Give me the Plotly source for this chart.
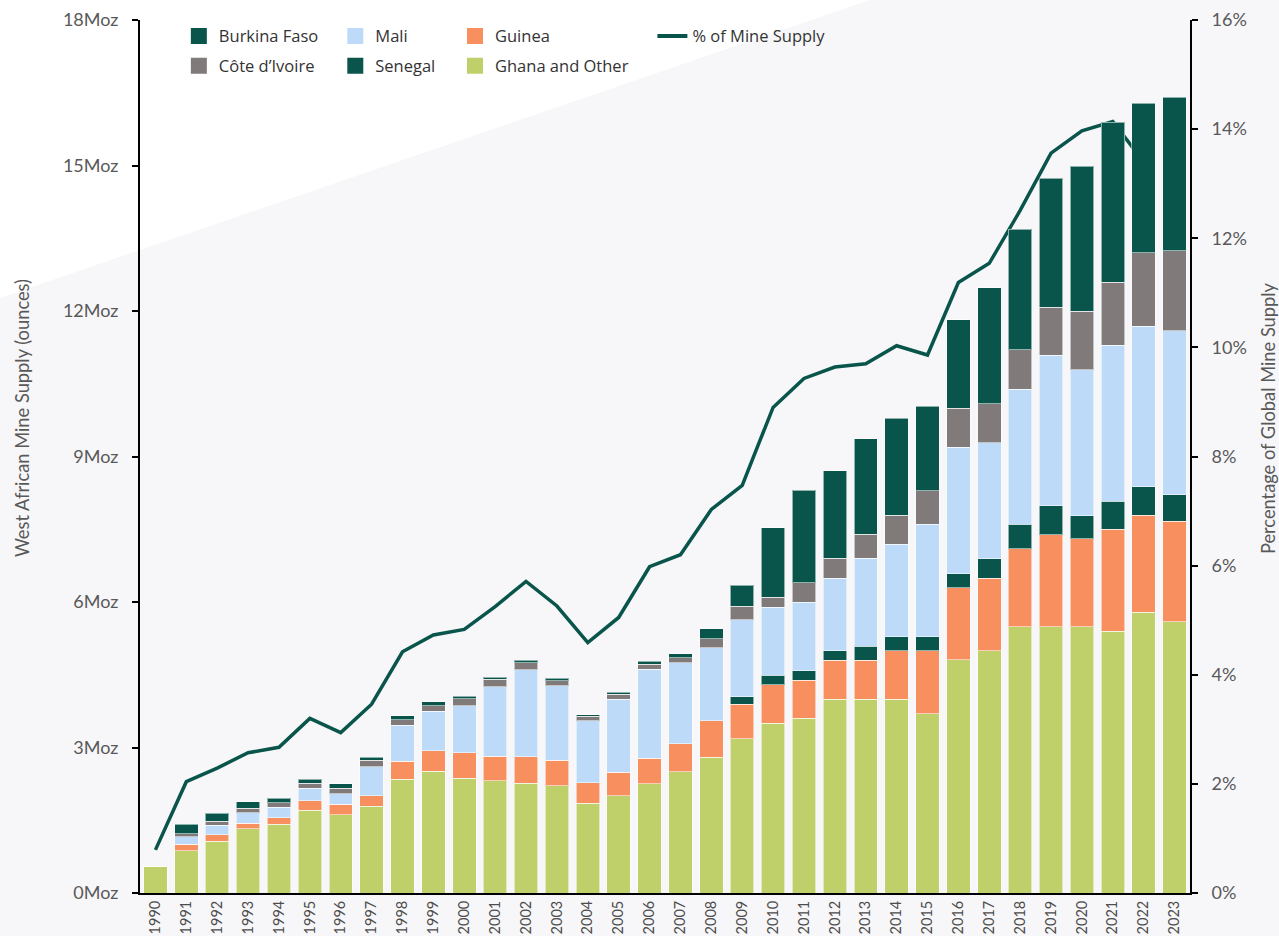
import plotly.graph_objects as go

# West African gold mine supply by country (Moz) and share of global mine supply (%)
years = [str(y) for y in range(1990, 2024)]

ghana_other = [0.55, 0.87, 1.07, 1.32, 1.42, 1.71, 1.61, 1.79, 2.35, 2.51, 2.37, 2.31, 2.26, 2.21, 1.85, 2.01, 2.25,
               2.50, 2.80, 3.18, 3.50, 3.60, 3.99, 3.99, 3.99, 3.70, 4.81, 4.99, 5.49, 5.49, 5.49, 5.40, 5.79, 5.59]
guinea = [0.0, 0.14, 0.13, 0.12, 0.13, 0.19, 0.22, 0.22, 0.37, 0.42, 0.52, 0.51, 0.55, 0.53, 0.42, 0.48, 0.53,
          0.58, 0.75, 0.71, 0.79, 0.79, 0.81, 0.81, 1.00, 1.29, 1.48, 1.50, 1.61, 1.90, 1.81, 2.10, 2.00, 2.08]
senegal = [0.0, 0.0, 0.0, 0.0, 0.0, 0.0, 0.0, 0.0, 0.0, 0.0, 0.0, 0.0, 0.0, 0.0, 0.0, 0.0, 0.0,
           0.0, 0.0, 0.16, 0.20, 0.19, 0.19, 0.29, 0.29, 0.29, 0.29, 0.40, 0.50, 0.59, 0.48, 0.58, 0.59, 0.54]
mali = [0.0, 0.15, 0.20, 0.21, 0.22, 0.26, 0.22, 0.59, 0.74, 0.82, 0.97, 1.43, 1.79, 1.53, 1.28, 1.50, 1.83,
        1.67, 1.51, 1.58, 1.40, 1.41, 1.50, 1.81, 1.91, 2.32, 2.61, 2.39, 2.79, 3.11, 3.01, 3.21, 3.31, 3.38]
cote_divoire = [0.0, 0.06, 0.08, 0.10, 0.09, 0.10, 0.11, 0.14, 0.11, 0.11, 0.15, 0.16, 0.15, 0.11, 0.09, 0.11, 0.11,
                0.10, 0.18, 0.28, 0.21, 0.41, 0.41, 0.50, 0.60, 0.69, 0.80, 0.81, 0.81, 0.99, 1.20, 1.30, 1.51, 1.65]
burkina_faso = [0.0, 0.20, 0.16, 0.13, 0.09, 0.09, 0.09, 0.06, 0.08, 0.08, 0.05, 0.04, 0.05, 0.05, 0.04, 0.04, 0.06,
                0.08, 0.21, 0.44, 1.43, 1.90, 1.81, 1.97, 2.00, 1.75, 1.83, 2.39, 2.49, 2.66, 2.99, 3.30, 3.08, 3.17]
share_pct = [0.79, 2.04, 2.29, 2.57, 2.67, 3.20, 2.94, 3.46, 4.42, 4.73, 4.83, 5.25, 5.71, 5.26, 4.59, 5.05, 5.98,
             6.20, 7.03, 7.47, 8.90, 9.43, 9.64, 9.70, 10.03, 9.86, 11.19, 11.54, 12.51, 13.56, 13.97, 14.14, 13.40, None]

moz_ticks = [0, 3, 6, 9, 12, 15, 18]
pct_ticks = [0, 2, 4, 6, 8, 10, 12, 14, 16]

DARK = "#0a554b"
COLORS = {
    "Ghana and Other": "#bfd06a",
    "Guinea": "#f78f5e",
    "Senegal": DARK,
    "Mali": "#bddaf8",
    "Côte d’Ivoire": "#817a7a",
    "Burkina Faso": DARK,
}
stack = [
    ("Ghana and Other", ghana_other),
    ("Guinea", guinea),
    ("Senegal", senegal),
    ("Mali", mali),
    ("Côte d’Ivoire", cote_divoire),
    ("Burkina Faso", burkina_faso),
]

fig = go.Figure()

# Share line sits on the primary axis so the stacked bars (overlaying axis) draw above it
fig.add_trace(go.Scatter(
    x=years, y=share_pct, mode="lines", yaxis="y", showlegend=False,
    line=dict(color=DARK, width=3.5), connectgaps=False, hoverinfo="skip",
))

for name, vals in stack:
    fig.add_trace(go.Bar(
        x=years, y=vals, name=name, yaxis="y2", showlegend=False,
        marker=dict(color=COLORS[name], line=dict(color="rgba(255,255,255,0.55)", width=1)),
    ))

# Legend entries laid out in four columns
legend_cols = [
    ("legend", [("Burkina Faso", "sq"), ("Côte d’Ivoire", "sq")]),
    ("legend2", [("Mali", "sq"), ("Senegal", "sq")]),
    ("legend3", [("Guinea", "sq"), ("Ghana and Other", "sq")]),
    ("legend4", [("% of Mine Supply", "line")]),
]
for leg, items in legend_cols:
    for name, kind in items:
        if kind == "sq":
            fig.add_trace(go.Scatter(
                x=[None], y=[None], mode="markers", name=name, legend=leg, legendgroup=name,
                marker=dict(symbol="square", size=16, color=COLORS[name]),
            ))
        else:
            fig.add_trace(go.Scatter(
                x=[None], y=[None], mode="lines", name=name, legend=leg, legendgroup=name,
                line=dict(color=DARK, width=4),
            ))

legend_font = dict(family="Open Sans", size=16.5, color="#333333")
def legend_at(x):
    return dict(x=x, y=1.0015, xanchor="left", yanchor="top", orientation="v",
                bgcolor="rgba(0,0,0,0)", font=legend_font, tracegroupgap=5.5,
                itemclick=False, itemdoubleclick=False)

tick_font = dict(family="Lato", size=18, color="#595959")
title_font = dict(family="Lato", size=18.3, color="#595959")

fig.update_layout(
    width=1279, height=936,
    margin=dict(l=140, r=89, t=20, b=43),
    paper_bgcolor="#f7f7f9",
    plot_bgcolor="rgba(0,0,0,0)",
    barmode="stack",
    bargap=0.24,
    font=dict(family="Lato", color="#595959"),
    legend=legend_at(0.037),
    legend2=legend_at(0.186),
    legend3=legend_at(0.300),
    legend4=legend_at(0.488),
    xaxis=dict(
        type="category", categoryorder="array", categoryarray=years,
        tickangle=-90, tickfont=dict(family="Lato", size=14.5, color="#4d4d4d"),
        showline=True, linecolor="black", linewidth=2, ticks="", showgrid=False,
        automargin=False,
    ),
    yaxis=dict(
        side="right", range=[0, 16], tickvals=pct_ticks,
        ticktext=[f"{v}%" for v in pct_ticks],
        showline=True, linecolor="black", linewidth=2,
        ticks="outside", ticklen=6, tickcolor="black", tickwidth=1.5,
        showgrid=False, zeroline=False, tickfont=tick_font, ticklabelstandoff=10,
        automargin=False,
    ),
    yaxis2=dict(
        side="left", overlaying="y", range=[0, 18], tickvals=moz_ticks,
        ticktext=[f"{v}Moz" for v in moz_ticks],
        showline=True, linecolor="black", linewidth=2,
        ticks="outside", ticklen=6, tickcolor="black", tickwidth=1.5,
        showgrid=False, zeroline=False, tickfont=tick_font, ticklabelstandoff=10,
        automargin=False,
    ),
    shapes=[dict(
        type="path", xref="paper", yref="paper", layer="below",
        path="M -0.1334,1.0230 L 0.6952,1.0230 L -0.1334,0.6816 Z",
        fillcolor="white", line=dict(width=0),
    )],
    annotations=[
        dict(text="West African Mine Supply (ounces)", xref="paper", yref="paper",
             x=-0.1124, y=0.544, textangle=-90, showarrow=False,
             xanchor="center", yanchor="middle", font=title_font),
        dict(text="Percentage of Global Mine Supply", xref="paper", yref="paper",
             x=1.0743, y=0.544, textangle=-90, showarrow=False,
             xanchor="center", yanchor="middle", font=title_font),
    ],
)

fig.write_html("out.html")
